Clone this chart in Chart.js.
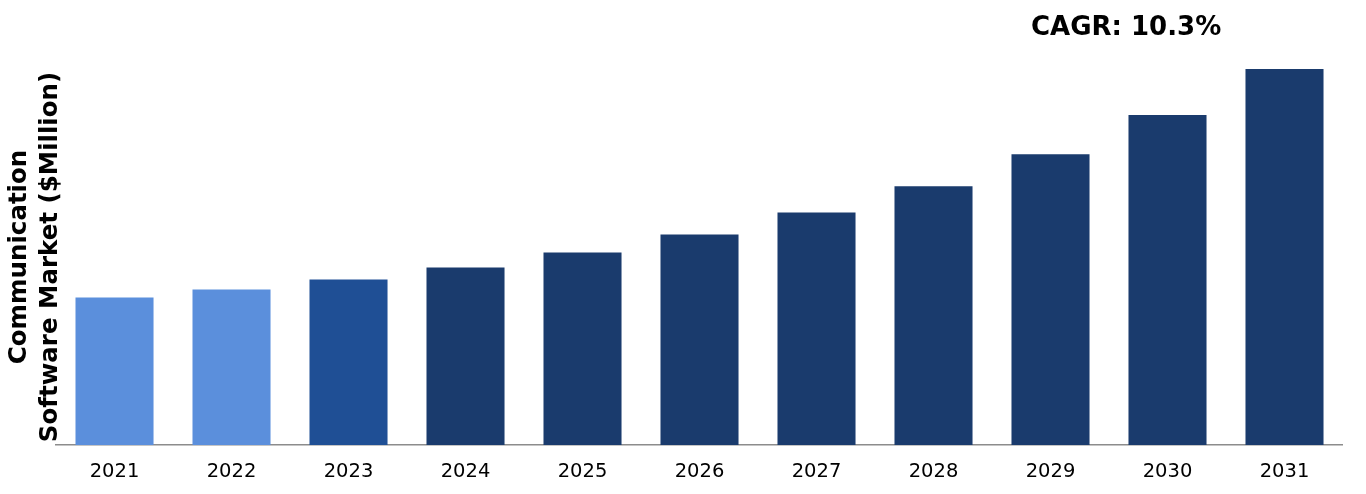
<!DOCTYPE html>
<html>
<head>
<meta charset="utf-8">
<script src="https://cdn.jsdelivr.net/npm/chart.js@4"></script>
<style>
  html, body { margin: 0; padding: 0; background: #fff; }
  #wrap { position: relative; width: 1366px; height: 494px; }
</style>
</head>
<body>
<div id="wrap"><canvas id="marketChart"></canvas></div>
<script>
// values (relative bar heights)
const years = ['2021', '2022', '2023', '2024', '2025', '2026', '2027', '2028', '2029', '2030', '2031'];
const marketValues = [147, 155, 165, 177, 192, 210, 232, 258, 290, 329, 375];
const barColors = ['#5b8fdc', '#5b8fdc', '#1f4f95', '#1a3b6d', '#1a3b6d', '#1a3b6d',
  '#1a3b6d', '#1a3b6d', '#1a3b6d', '#1a3b6d', '#1a3b6d'];
const yTitle = ['Communication', 'Software Market ($Million)'];
const cagrText = 'CAGR: 10.3%';

const cagrLabel = {
  id: 'cagrLabel',
  afterDraw(chart) {
    const ctx = chart.ctx;
    ctx.save();
    ctx.font = 'bold 26px "DejaVu Sans"';
    ctx.fillStyle = '#000';
    ctx.textAlign = 'left';
    ctx.textBaseline = 'alphabetic';
    ctx.fillText(cagrText, 1031, 35);
    ctx.restore();
  }
};

new Chart(document.getElementById('marketChart'), {
  type: 'bar',
  data: {
    labels: years,
    datasets: [{
      data: marketValues,
      backgroundColor: barColors,
      borderWidth: 0,
      barPercentage: 0.667,
      categoryPercentage: 1
    }]
  },
  options: {
    responsive: true,
    maintainAspectRatio: false,
    animation: false,
    devicePixelRatio: 1,
    layout: { padding: { top: 69, right: 23, bottom: -4.4, left: 0 } },
    plugins: {
      legend: { display: false },
      tooltip: { enabled: false }
    },
    scales: {
      x: {
        grid: { display: false, drawTicks: false },
        border: { display: true, color: '#8c8c8c', width: 1.5 },
        ticks: {
          color: '#000',
          padding: 15,
          font: { family: 'DejaVu Sans', size: 19.5 }
        }
      },
      y: {
        min: 0,
        max: 375,
        grid: { display: false, drawTicks: false },
        border: { display: false },
        ticks: { display: false },
        title: {
          display: true,
          text: yTitle,
          color: '#000',
          padding: { top: 3.75, bottom: -10.75 },
          font: { family: 'DejaVu Sans', size: 24.5, weight: 'bold', lineHeight: 1.286 }
        }
      }
    }
  },
  plugins: [cagrLabel]
});
</script>
</body>
</html>
